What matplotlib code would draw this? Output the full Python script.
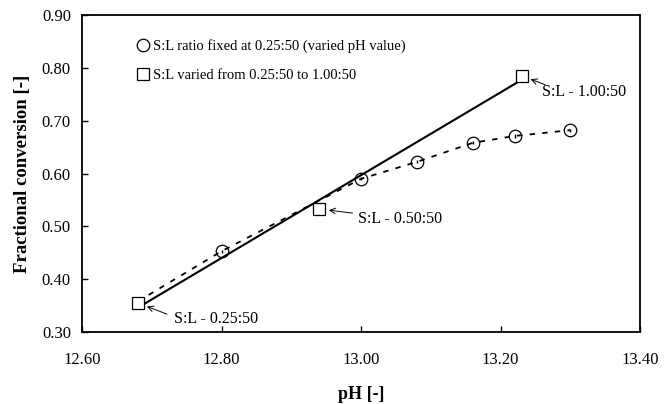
import numpy as np
import matplotlib.pyplot as plt
from matplotlib.lines import Line2D

# S:L ratio fixed at 0.25:50, pH varied (first point sits under the first square)
ph_fixed = [12.68, 12.80, 13.00, 13.08, 13.16, 13.22, 13.30]
conv_fixed = [0.358, 0.453, 0.590, 0.622, 0.658, 0.671, 0.682]
err_fixed = [0.0, 0.003, 0.003, 0.003, 0.003, 0.003, 0.003]

# S:L varied from 0.25:50 to 1.00:50
ph_sl = [12.68, 12.94, 13.23]
conv_sl = [0.355, 0.533, 0.785]
sl_labels = ["S:L - 0.25:50", "S:L - 0.50:50", "S:L - 1.00:50"]

plt.rcParams['font.family'] = ['Liberation Serif', 'DejaVu Serif']

fig = plt.figure(figsize=(6.7, 4.04), dpi=100)
ax = fig.add_axes([0.1224, 0.178, 0.833, 0.785])

# dashed line through the fixed-ratio series
ax.plot(ph_fixed, conv_fixed, color='black', ls=(0, (3, 4)), lw=1.3)
ax.errorbar(ph_fixed[1:], conv_fixed[1:], yerr=err_fixed[1:], fmt='o', ms=9,
            mfc='none', mec='black', mew=0.9, ecolor='black', elinewidth=1,
            capsize=0)

# linear trend of the varied-ratio points
slope, icpt = np.polyfit(ph_sl, conv_sl, 1)
xs = np.array([ph_sl[0], ph_sl[-1]])
ax.plot(xs, slope * xs + icpt, color='black', lw=1.5)
ax.plot(ph_sl, conv_sl, 's', ms=9, mfc='white', mec='black', mew=0.9)

offsets = [(26, -11.5), (28, -7), (15, -12)]
tails = [(21, -8), (24, -3), (17, -6.5)]
for x, y, lab, off, tail in zip(ph_sl, conv_sl, sl_labels, offsets, tails):
    ax.annotate(lab, xy=(x, y), xytext=off, textcoords='offset points',
                fontsize=11.5, va='center', ha='left')
    ax.annotate('', xy=(x, y), xytext=tail, textcoords='offset points',
                arrowprops=dict(arrowstyle='->', lw=0.7, color='black',
                                shrinkA=0, shrinkB=7))

ax.set_xlim(12.6, 13.4)
ax.set_ylim(0.3, 0.9)
ax.set_xticks(np.arange(12.6, 13.41, 0.2))
ax.set_yticks(np.arange(0.3, 0.91, 0.1))
ax.xaxis.set_major_formatter(plt.FormatStrFormatter('%.2f'))
ax.yaxis.set_major_formatter(plt.FormatStrFormatter('%.2f'))
ax.tick_params(direction='in', labelsize=12, length=4, width=1)
ax.tick_params(axis='x', pad=14)
ax.tick_params(axis='y', pad=8)
for s in ax.spines.values():
    s.set_linewidth(1.3)

ax.set_xlabel('pH [-]', fontsize=13, fontweight='bold', labelpad=13)
ax.set_ylabel('Fractional conversion [-]', fontsize=13.5, fontweight='bold', labelpad=8)

handles = [
    Line2D([], [], ls='none', marker='o', ms=9, mfc='none', mec='black', mew=0.9),
    Line2D([], [], ls='none', marker='s', ms=9, mfc='none', mec='black', mew=0.9),
]
labels = ['S:L ratio fixed at 0.25:50 (varied pH value)',
          'S:L varied from 0.25:50 to 1.00:50']
ax.legend(handles, labels, loc='upper left', bbox_to_anchor=(0.07, 0.965),
          frameon=False, fontsize=10.5, handletextpad=0.1, handlelength=1.2,
          labelspacing=1.05)

fig.savefig('out.png', dpi=100)
